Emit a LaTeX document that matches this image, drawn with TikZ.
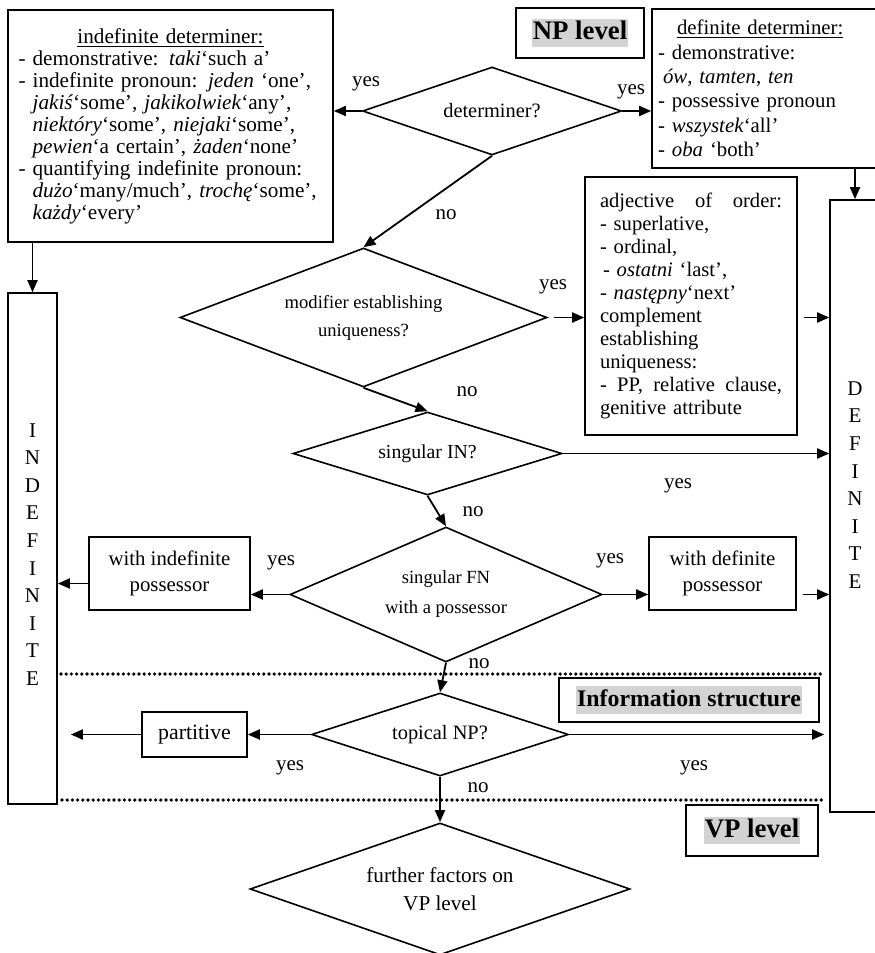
\documentclass[tikz,border=0pt]{standalone}
\usepackage{fontspec}
\setmainfont{Liberation Serif}
\usetikzlibrary{shapes.geometric,arrows.meta}

\definecolor{shadegray}{RGB}{211,211,211}
\newcommand{\graybg}[1]{{\setlength{\fboxsep}{0.6pt}%
  \colorbox{shadegray}{\rule[-3pt]{0pt}{12.6pt}#1}}}

\begin{document}
\begin{tikzpicture}[
    x=0.5pt, y=-0.5pt,
    plainbox/.style={draw, line width=0.8pt, inner sep=0pt, align=center,
                     font=\fontsize{10.4}{13}\selectfont},
    listbox/.style={draw, line width=0.8pt, align=left, inner ysep=0pt,
                    font=\fontsize{10.6}{11}\selectfont},
    quest/.style={draw, diamond, line width=0.8pt, inner sep=0pt, align=center,
                  font=\fontsize{10.2}{14}\selectfont},
    tallbox/.style={draw, line width=0.8pt, inner sep=0pt},
    vword/.style={align=center, inner sep=0pt, font=\fontsize{10.5}{13.8}\selectfont},
    lvlbox/.style={draw, line width=0.8pt, inner sep=0pt,
                   font=\bfseries\fontsize{13.4}{15}\selectfont},
    arr/.style={line width=0.9pt, -{Triangle[length=6pt,width=5pt]}},
    dotline/.style={line width=1.8pt, line cap=round, dash pattern=on 0pt off 2.6pt},
    lbl/.style={inner sep=0pt, font=\fontsize{10.5}{12}\selectfont}
]

\useasboundingbox (0,0) rectangle (874,953);

% ---------- level headings ----------
\node[lvlbox, minimum width=64pt, minimum height=25pt] (nplvl) at (580,33) {\graybg{NP level}};
\node[lvlbox, minimum width=130pt, minimum height=22pt,
      font=\bfseries\fontsize{11.9}{14}\selectfont] (infolvl) at (689,700) {\graybg{Information structure}};
\node[lvlbox, minimum width=66pt, minimum height=25.5pt] (vplvl) at (752,830.5) {\graybg{VP level}};

% ---------- determiner lists ----------
\node[listbox, text width=152pt, inner xsep=5.25pt, minimum height=116pt] (indet) at (170.5,126) {%
  \makebox[152pt]{\underline{indefinite determiner:}}\\
  - demonstrative: \textit{taki}‘such a’\\
  - indefinite pronoun: \textit{jeden} ‘one’,\\
  \phantom{- }\textit{jakiś}‘some’, \textit{jakikolwiek}‘any’,\\
  \phantom{- }\textit{niektóry}‘some’, \textit{niejaki}‘some’,\\
  \phantom{- }\textit{pewien}‘a certain’, \textit{żaden}‘none’\\
  - quantifying indefinite pronoun:\\
  \phantom{- }\textit{dużo}‘many/much’, \textit{trochę}‘some’,\\
  \phantom{- }\textit{każdy}‘every’};

\node[listbox, text width=114pt, inner xsep=3pt, minimum height=79.5pt,
      font=\fontsize{10.4}{12.2}\selectfont] (defdet) at (772,88.5) {%
  \hspace*{9.5pt}\underline{definite determiner:}\\
  - demonstrative:\\
  \hspace*{2.5pt}\textit{ów}, \textit{tamten}, \textit{ten}\\
  - possessive pronoun\\
  - \textit{wszystek}‘all’\\
  - \textit{oba} ‘both’};

\node[listbox, text width=91pt, inner xsep=7.5pt, minimum height=129pt,
      font=\fontsize{10.3}{11.5}\selectfont] (adj) at (691,306) {%
  \makebox[91pt][s]{adjective\hfill of\hfill order:}\\
  - superlative,\\
  - ordinal,\\
  \hspace*{1.5pt}- \textit{ostatni} ‘last’,\\
  - \textit{następny}‘next’\\
  complement\\
  establishing\\
  uniqueness:\\
  \makebox[91pt][s]{-\hfill PP,\hfill relative\hfill clause,}\\
  genitive attribute};

% ---------- outcome columns ----------
\node[tallbox, minimum width=24.5pt, minimum height=255.5pt] (indfrm) at (32.5,548.5) {};
\node[vword] (indtxt) at (32.5,554.5) {I\\N\\D\\E\\F\\I\\N\\I\\T\\E};
\node[tallbox, minimum width=25pt, minimum height=306pt] (deffrm) at (855,506) {};
\node[vword] (deftxt) at (855,485) {D\\E\\F\\I\\N\\I\\T\\E};

% ---------- questions ----------
\node[quest, shape aspect=2.9, minimum width=129.5pt, minimum height=44pt] (det) at (492,111) {determiner?};
\node[quest, shape aspect=2.6, minimum width=183.5pt, minimum height=69.5pt,
      font=\fontsize{9.3}{14}\selectfont] (mod) at (363.5,317.5) {modifier establishing\\uniqueness?};
\node[quest, shape aspect=3.2, minimum width=134.5pt, minimum height=41.5pt,
      font=\fontsize{9.9}{12}\selectfont] (singin) at (427.5,453.5) {singular IN?};
\node[quest, shape aspect=2.3, minimum width=156pt, minimum height=67.5pt,
      font=\fontsize{9.3}{15}\selectfont] (singfn) at (446,594.5) {singular FN\\with a possessor};
\node[quest, shape aspect=3.1, minimum width=128.5pt, minimum height=41.5pt] (topic) at (440,734.5) {topical NP?};
\node[quest, shape aspect=2.9, minimum width=190pt, minimum height=66pt,
      font=\fontsize{10.6}{14}\selectfont] (further) at (440,889) {further factors on\\VP level};

% ---------- small boxes ----------
\node[plainbox, minimum width=80.5pt, minimum height=36.5pt] (indposs) at (169.5,573.5) {with indefinite\\possessor};
\node[plainbox, minimum width=73.5pt, minimum height=36.5pt] (defposs) at (722.5,573.5) {with definite\\possessor};
\node[plainbox, minimum width=52.5pt, minimum height=22.5pt,
      font=\fontsize{10.9}{13}\selectfont] (part) at (194.5,734.5) {partitive};

% ---------- separators ----------
\draw[dotline] (61,674) -- (821,674);
\draw[dotline] (62,800) -- (826,800);

% ---------- connectors ----------
\draw[arr] (det.west) -- (det.west -| indet.east);
\draw[arr] (det.east) -- (det.east -| defdet.west);
\draw[arr] (deffrm.north |- defdet.south) -- (deffrm.north);
\draw[arr] (indfrm.north |- indet.south) -- (indfrm.north);
\draw[arr] (det.south) -- (mod.north);
\draw[arr, shorten <=3pt] (mod.east) -- (mod.east -| adj.west);
\draw[arr, shorten <=3pt] (adj.east |- mod.east) -- (deffrm.west |- mod.east);
\draw[arr] (mod.south) -- (singin.north);
\draw[arr] (singin.east) -- (singin.east -| deffrm.west);
\draw[arr] (singin.south) -- (singfn.north);
\draw[arr] (singfn.west) -- (singfn.west -| indposs.east);
\draw[arr] ([yshift=-5pt]indposs.west) -- ([yshift=-5pt]indposs.west -| indfrm.east);
\draw[arr] (singfn.east) -- (singfn.east -| defposs.west);
\draw[arr, shorten <=3pt] (defposs.east |- singfn.east) -- (deffrm.west |- singfn.east);
\draw[arr] (singfn.south) -- (topic.north);
\draw[arr] (topic.west) -- (topic.west -| part.east);
\draw[arr, shorten >=6.5pt] (part.west) -- (part.west -| indfrm.east);
\draw[arr, shorten >=2.5pt] (topic.east) -- (topic.east -| deffrm.west);
\draw[arr] (topic.south) -- (further.north);

% ---------- yes / no ----------
\node[lbl] (y1) at (366,84) {yes};
\node[lbl] (y2) at (631,92) {yes};
\node[lbl] (n1) at (446,215) {no};
\node[lbl] (y3) at (553,287) {yes};
\node[lbl] (n2) at (467,392) {no};
\node[lbl] (y4) at (678,486) {yes};
\node[lbl] (n3) at (473,512) {no};
\node[lbl] (y5) at (281,563) {yes};
\node[lbl] (y6) at (610,561) {yes};
\node[lbl] (n4) at (479,664) {no};
\node[lbl] (y7) at (290,768) {yes};
\node[lbl] (y8) at (694,768) {yes};
\node[lbl] (n5) at (478,788) {no};

\end{tikzpicture}
\end{document}
